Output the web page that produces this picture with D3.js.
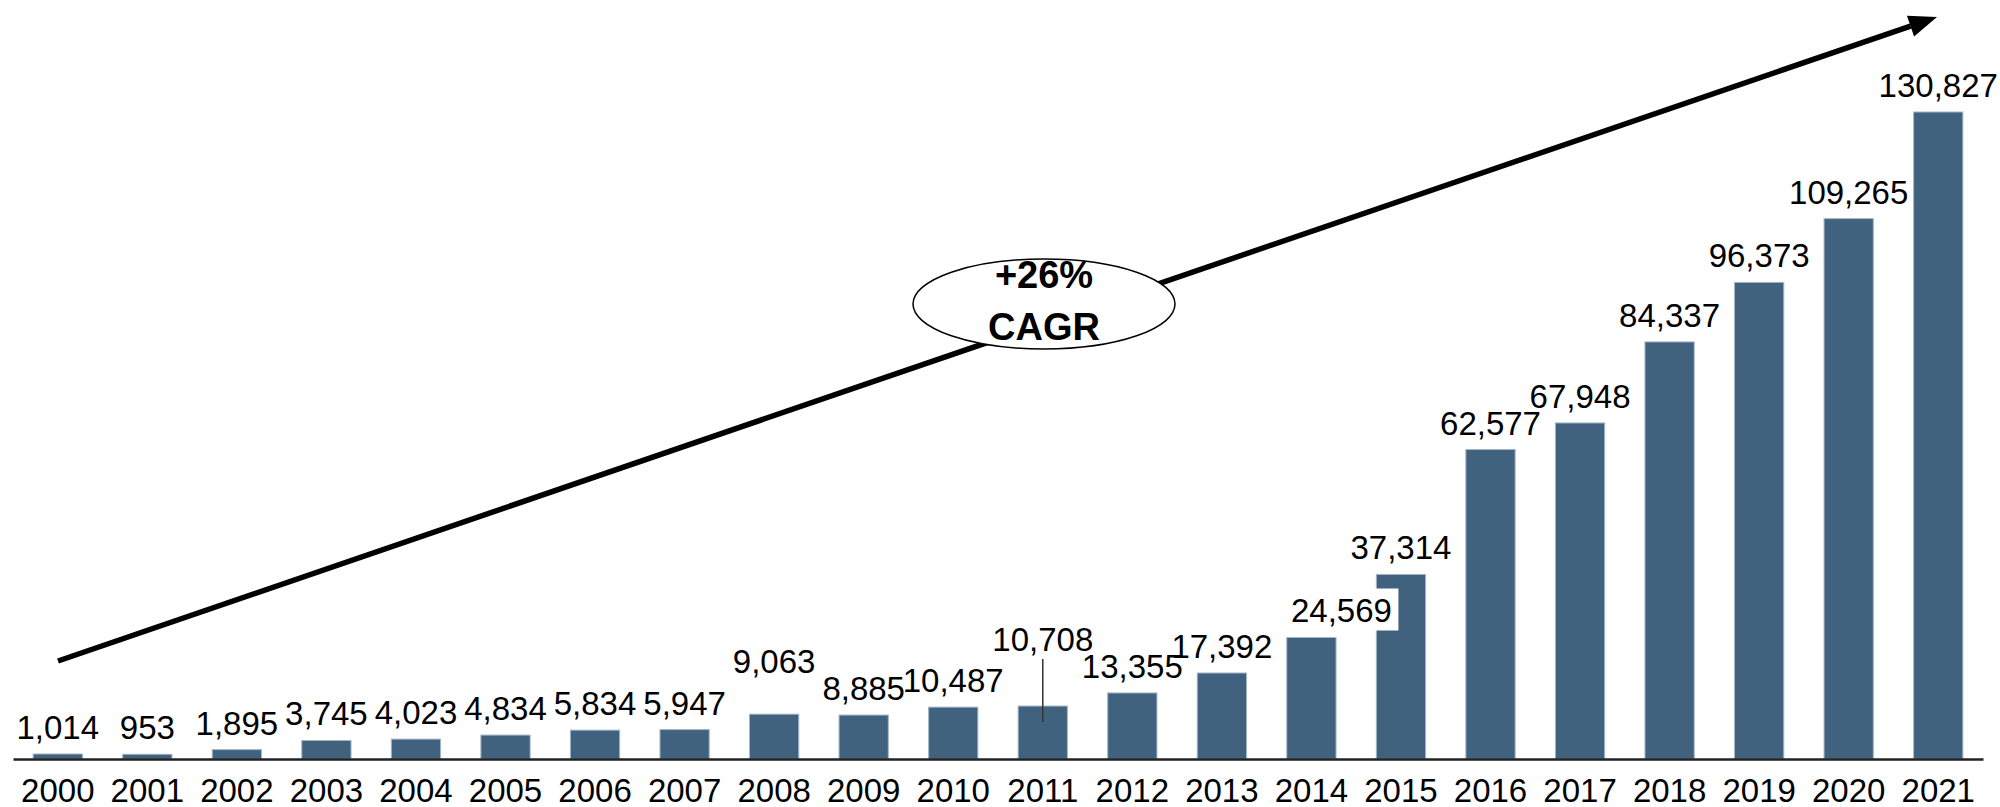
<!DOCTYPE html>
<html>
<head>
<meta charset="utf-8">
<script src="https://cdn.jsdelivr.net/npm/d3@7"></script>
<style>
  body { margin: 0; background: #fff; }
  text { font-family: "Liberation Sans", Arial, sans-serif; }
</style>
</head>
<body>
<div id="chart"></div>
<script>
// data
var years = ["2000","2001","2002","2003","2004","2005","2006","2007","2008","2009","2010",
             "2011","2012","2013","2014","2015","2016","2017","2018","2019","2020","2021"];
var values = [1014, 953, 1895, 3745, 4023, 4834, 5834, 5947, 9063, 8885, 10487,
              10708, 13355, 17392, 24569, 37314, 62577, 67948, 84337, 96373, 109265, 130827];
var cagrLines = ["+26%", "CAGR"];

var svgWidth = 2000;
var svgHeight = 807;

// chart area
var left = 13, right = 1983, baseY = 759, topY = 112;

var svg = d3.select("#chart")
  .append("svg")
  .attr("width", svgWidth)
  .attr("height", svgHeight);

var x = d3.scaleBand()
  .domain(years)
  .range([left, right])
  .paddingInner(0.45)
  .paddingOuter(0.225);

var y = d3.scaleLinear()
  .domain([0, d3.max(values)])
  .range([baseY, topY]);

var data = years.map(function(yr, i) { return { year: yr, value: values[i] }; });

// bars
svg.append("g").selectAll("rect")
  .data(data)
  .enter()
  .append("rect")
  .attr("x", d => x(d.year))
  .attr("y", d => y(d.value))
  .attr("width", x.bandwidth())
  .attr("height", d => baseY - y(d.value))
  .attr("fill", "#41627f")
  .attr("stroke", "#a3b6c8")
  .attr("stroke-width", 1);

// x axis
var xAxis = d3.axisBottom(x).tickSize(0).tickSizeOuter(0).tickPadding(0);
var axisG = svg.append("g")
  .attr("transform", `translate(0, ${baseY})`)
  .call(xAxis);
axisG.select(".domain").attr("stroke", "#222").attr("stroke-width", 2.5);
axisG.selectAll("text")
  .attr("y", 43)
  .attr("dy", 0)
  .attr("fill", "#000")
  .style("font-size", "33px")
  .style("font-family", "Liberation Sans, Arial, sans-serif");

// label tweaks (pixels) where the original moved labels out of the way
var labelShift = { "2008": { dx: 0, dy: -26 }, "2011": { dx: 0, dy: -40 }, "2014": { dx: 30, dy: 0 } };
var fmt = d3.format(",");

var labelG = svg.append("g");

// white box behind the 2014 label (it overlaps the 2015 bar)
var d14 = data[years.indexOf("2014")];
labelG.append("rect")
  .attr("x", x(d14.year) + x.bandwidth() / 2 + labelShift["2014"].dx - 56)
  .attr("y", y(d14.value) - 15 - 34)
  .attr("width", 113)
  .attr("height", 42)
  .attr("fill", "#fff");

// leader line for 2011
var d11 = data[years.indexOf("2011")];
labelG.append("line")
  .attr("x1", x(d11.year) + x.bandwidth() / 2)
  .attr("x2", x(d11.year) + x.bandwidth() / 2)
  .attr("y1", y(d11.value) - 47)
  .attr("y2", y(d11.value) + 16)
  .attr("stroke", "#333")
  .attr("stroke-width", 1.5);

labelG.selectAll("text.val")
  .data(data)
  .enter()
  .append("text")
  .attr("class", "val")
  .attr("x", d => x(d.year) + x.bandwidth() / 2 + (labelShift[d.year] ? labelShift[d.year].dx : 0))
  .attr("y", d => y(d.value) - 15 + (labelShift[d.year] ? labelShift[d.year].dy : 0))
  .attr("text-anchor", "middle")
  .style("font-size", "33px")
  .attr("fill", "#000")
  .text(d => fmt(d.value));

// growth arrow
var x0 = 58, y0 = 661, x1 = 1937, y1 = 17;
var ang = Math.atan2(y1 - y0, x1 - x0);
var headLen = 28, headW = 11;
var bx = x1 - headLen * Math.cos(ang), by = y1 - headLen * Math.sin(ang);
svg.append("line")
  .attr("x1", x0).attr("y1", y0)
  .attr("x2", bx).attr("y2", by)
  .attr("stroke", "#000")
  .attr("stroke-width", 5.5);
svg.append("polygon")
  .attr("points", [
    [x1, y1],
    [bx + headW * Math.sin(ang), by - headW * Math.cos(ang)],
    [bx - headW * Math.sin(ang), by + headW * Math.cos(ang)]
  ].map(p => p.join(",")).join(" "))
  .attr("fill", "#000");

// CAGR bubble
svg.append("ellipse")
  .attr("cx", 1044)
  .attr("cy", 304)
  .attr("rx", 131)
  .attr("ry", 45)
  .attr("fill", "#fff")
  .attr("stroke", "#000")
  .attr("stroke-width", 1.5);

svg.selectAll("text.cagr")
  .data(cagrLines)
  .enter()
  .append("text")
  .attr("class", "cagr")
  .attr("x", 1044)
  .attr("y", (d, i) => 288 + i * 52)
  .attr("text-anchor", "middle")
  .style("font-size", "38px")
  .style("font-weight", "bold")
  .text(d => d);
</script>
</body>
</html>
